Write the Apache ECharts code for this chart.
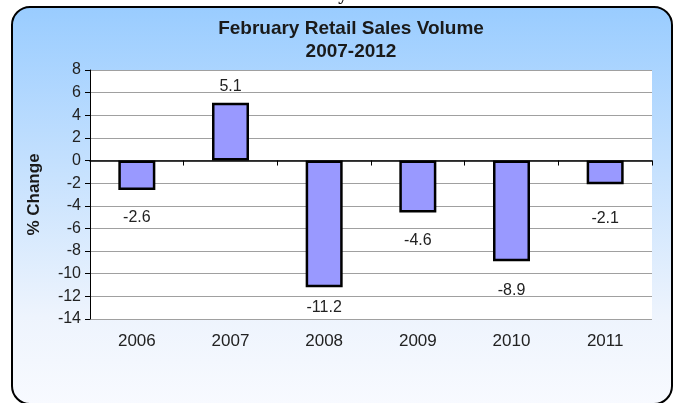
<!DOCTYPE html>
<html>
<head>
<meta charset="utf-8">
<script src="https://cdn.jsdelivr.net/npm/echarts@6/dist/echarts.min.js"></script>
<style>
  html, body { margin: 0; padding: 0; background: #fff; }
  #chart { width: 679px; height: 403px; }
</style>
</head>
<body>
<div id="chart"></div>
<script>
// data
const years = ['2006', '2007', '2008', '2009', '2010', '2011'];
const salesChange = [-2.6, 5.1, -11.2, -4.6, -8.9, -2.1];
// gap between bar end and its label (the labels sit a bit loose in the original)
const labelGap = [20, 8, 12, 20, 21, 26];

const font = 'Liberation Sans, Arial, sans-serif';
const chart = echarts.init(document.getElementById('chart'));

chart.setOption({
  animation: false,
  graphic: [
    {
      type: 'rect',
      z: -10,
      shape: { x: 12, y: 7, width: 660, height: 397, r: 18 },
      style: {
        fill: new echarts.graphic.LinearGradient(0, 0, 0, 1, [
          { offset: 0, color: '#99ccff' },
          { offset: 0.78, color: '#eef4fd' },
          { offset: 1, color: '#f8faff' }
        ]),
        stroke: '#000',
        lineWidth: 2
      }
    },
    {
      // bit of text cut off at the top edge
      type: 'text',
      left: 338,
      top: -14,
      style: { text: 'y', font: '18px "DejaVu Serif", serif', fill: '#111' }
    }
  ],
  title: {
    text: 'February Retail Sales Volume\n2007-2012',
    left: 346,
    textAlign: 'center',
    top: 12,
    textStyle: {
      fontFamily: font,
      fontWeight: 'bold',
      fontSize: 19,
      lineHeight: 23,
      color: '#1a1a1a'
    }
  },
  grid: {
    left: 90,
    right: 27,
    top: 70,
    bottom: 84,
    show: true,
    backgroundColor: '#fff',
    borderWidth: 0
  },
  xAxis: [
    {
      type: 'category',
      data: years,
      axisLine: { onZero: true, lineStyle: { color: '#000', width: 1.5 } },
      axisTick: { show: true, length: 5, lineStyle: { color: '#000' } },
      axisLabel: { show: false }
    },
    {
      type: 'category',
      data: years,
      position: 'bottom',
      axisLine: { show: false, onZero: false },
      axisTick: { show: false },
      axisLabel: { margin: 14, fontFamily: font, fontSize: 17, color: '#222' }
    }
  ],
  yAxis: {
    type: 'value',
    min: -14,
    max: 8,
    interval: 2,
    name: '% Change',
    nameLocation: 'middle',
    nameGap: 47,
    nameTextStyle: { fontFamily: font, fontWeight: 'bold', fontSize: 17, color: '#1a1a1a' },
    axisLine: { show: true, lineStyle: { color: '#000', width: 1 } },
    axisTick: { show: true, length: 5, lineStyle: { color: '#000' } },
    axisLabel: { margin: 9, fontFamily: font, fontSize: 16, color: '#222' },
    splitLine: { lineStyle: { color: '#a0a0a0', width: 1 } }
  },
  series: [
    {
      type: 'bar',
      xAxisIndex: 0,
      barWidth: 37,
      itemStyle: { color: '#9999ff', borderColor: '#000', borderWidth: 2.5 },
      data: salesChange.map((v, i) => ({
        value: v,
        label: {
          show: true,
          position: v < 0 ? 'bottom' : 'top',
          distance: labelGap[i],
          fontFamily: font,
          fontSize: 16,
          color: '#222'
        }
      }))
    }
  ]
});
</script>
</body>
</html>
